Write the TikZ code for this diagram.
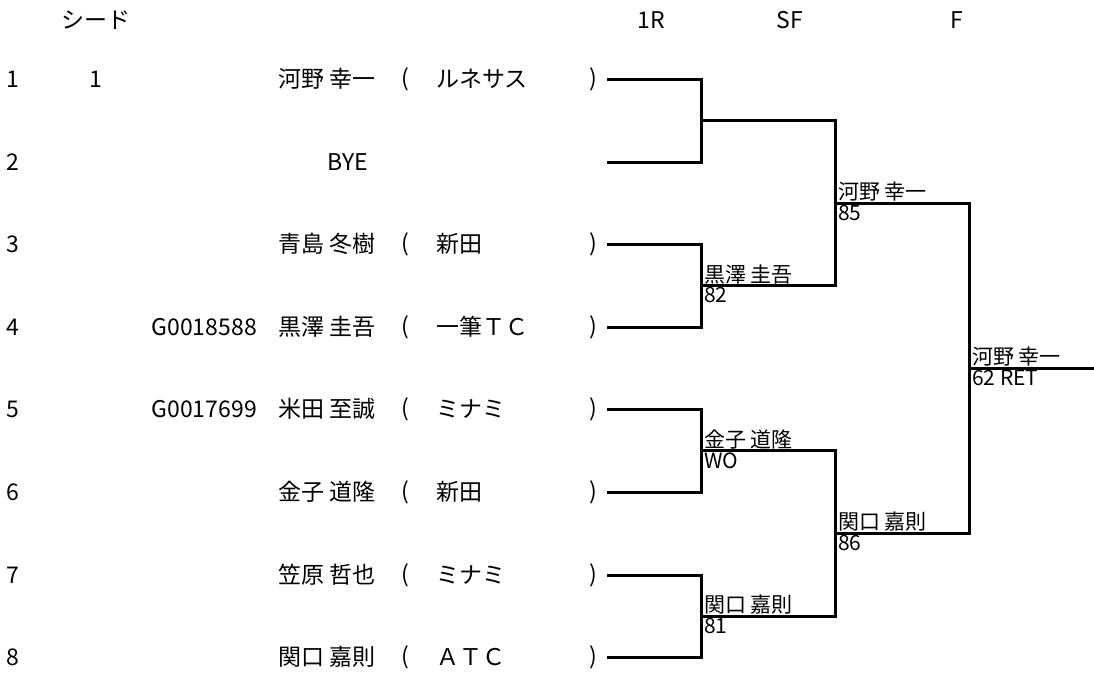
\documentclass[tikz,border=0pt]{standalone}
\usepackage{fontspec}
\setmainfont{Noto Sans CJK JP}
\usetikzlibrary{positioning}

\begin{document}
\begin{tikzpicture}[x=1pt, y=-1pt,
txtnode/.style={inner sep=0pt, font=\fontsize{23}{23}\selectfont},
lblnode/.style={inner sep=1pt, font=\fontsize{21}{21}\selectfont},
bracket/.style={line width=3pt},
]
\useasboundingbox (0,0) rectangle (1094,675);
%Header
\node[txtnode]  (hseed)  at (96,20)   {シード};
\node[txtnode]  (hfirst) at (651,20)  {1R};
\node[txtnode]  (hsemi)  at (790,20)  {SF};
\node[txtnode]  (hfinal) at (957,20)  {F};
%Draw numbers
\node[txtnode]  (d1) at (13,79)  {1};
\node[txtnode]  (d2) at (13,162) {2};
\node[txtnode]  (d3) at (13,244) {3};
\node[txtnode]  (d4) at (13,327) {4};
\node[txtnode]  (d5) at (13,409) {5};
\node[txtnode]  (d6) at (13,492) {6};
\node[txtnode]  (d7) at (13,575) {7};
\node[txtnode]  (d8) at (13,657) {8};
\node[txtnode]  (seed1) at (96,79) {1};
%IDs
\node[txtnode, anchor=east]  (id4) at (257,327) {G0018588};
\node[txtnode, anchor=east]  (id5) at (257,409) {G0017699};
%Players
\node[txtnode, anchor=west]  (n1) at (278,79)  {河野 幸一};
\node[txtnode]               (n2) at (348,162) {BYE};
\node[txtnode, anchor=west]  (n3) at (278,244) {青島 冬樹};
\node[txtnode, anchor=west]  (n4) at (278,327) {黒澤 圭吾};
\node[txtnode, anchor=west]  (n5) at (278,409) {米田 至誠};
\node[txtnode, anchor=west]  (n6) at (278,492) {金子 道隆};
\node[txtnode, anchor=west]  (n7) at (278,575) {笠原 哲也};
\node[txtnode, anchor=west]  (n8) at (278,657) {関口 嘉則};
%Clubs
\node[txtnode]  (op1) at (405,79)  {(};
\node[txtnode]  (op3) at (405,244) {(};
\node[txtnode]  (op4) at (405,327) {(};
\node[txtnode]  (op5) at (405,409) {(};
\node[txtnode]  (op6) at (405,492) {(};
\node[txtnode]  (op7) at (405,575) {(};
\node[txtnode]  (op8) at (405,657) {(};
\node[txtnode, anchor=west]  (c1) at (436,79)  {ルネサス};
\node[txtnode, anchor=west]  (c3) at (436,244) {新田};
\node[txtnode, anchor=west]  (c4) at (436,327) {一筆ＴＣ};
\node[txtnode, anchor=west]  (c5) at (436,409) {ミナミ};
\node[txtnode, anchor=west]  (c6) at (436,492) {新田};
\node[txtnode, anchor=west]  (c7) at (436,575) {ミナミ};
\node[txtnode, anchor=west]  (c8) at (436,657) {ＡＴＣ};
\node[txtnode]  (cp1) at (593,79)  {)};
\node[txtnode]  (cp3) at (593,244) {)};
\node[txtnode]  (cp4) at (593,327) {)};
\node[txtnode]  (cp5) at (593,409) {)};
\node[txtnode]  (cp6) at (593,492) {)};
\node[txtnode]  (cp7) at (593,575) {)};
\node[txtnode]  (cp8) at (593,657) {)};
%Points
\coordinate (r1) at (607,79);
\coordinate (r2) at (607,162);
\coordinate (r3) at (607,244);
\coordinate (r4) at (607,327);
\coordinate (r5) at (607,409);
\coordinate (r6) at (607,492);
\coordinate (r7) at (607,575);
\coordinate (r8) at (607,657);
\coordinate (q1) at (701,120.5);
\coordinate (q2) at (701,285.5);
\coordinate (q3) at (701,450.5);
\coordinate (q4) at (701,616);
\coordinate (s1) at (835,203);
\coordinate (s2) at (835,533);
\coordinate (w)  at (969,368);
\coordinate (out) at (1094,368);
%Lines
\draw[bracket] (r1) -| (q1) |- (r2);
\draw[bracket] (r3) -| (q2) |- (r4);
\draw[bracket] (r5) -| (q3) |- (r6);
\draw[bracket] (r7) -| (q4) |- (r8);
\draw[bracket] (q1) -| (s1) |- (q2);
\draw[bracket] (q3) -| (s2) |- (q4);
\draw[bracket] (s1) -| (w) |- (s2);
\draw[bracket] (w) -- (out);
%Results
\node[lblnode, anchor=south west] (wq2) at ([xshift=2pt,yshift=0.5pt]q2) {黒澤 圭吾};
\node[lblnode, anchor=north west] (sq2) at ([xshift=2pt,yshift=-1pt]q2) {82};
\node[lblnode, anchor=south west] (wq3) at ([xshift=2pt,yshift=0.5pt]q3) {金子 道隆};
\node[lblnode, anchor=north west] (sq3) at ([xshift=2pt,yshift=-1pt]q3) {WO};
\node[lblnode, anchor=south west] (wq4) at ([xshift=2pt,yshift=0.5pt]q4) {関口 嘉則};
\node[lblnode, anchor=north west] (sq4) at ([xshift=2pt,yshift=-1pt]q4) {81};
\node[lblnode, anchor=south west] (ws1) at ([xshift=2pt,yshift=0.5pt]s1) {河野 幸一};
\node[lblnode, anchor=north west] (ss1) at ([xshift=2pt,yshift=-1pt]s1) {85};
\node[lblnode, anchor=south west] (ws2) at ([xshift=2pt,yshift=0.5pt]s2) {関口 嘉則};
\node[lblnode, anchor=north west] (ss2) at ([xshift=2pt,yshift=-1pt]s2) {86};
\node[lblnode, anchor=south west] (ww)  at ([xshift=2pt,yshift=0.5pt]w)  {河野 幸一};
\node[lblnode, anchor=north west] (sw)  at ([xshift=2pt,yshift=-1pt]w)  {62 RET};
\end{tikzpicture}
\end{document}
